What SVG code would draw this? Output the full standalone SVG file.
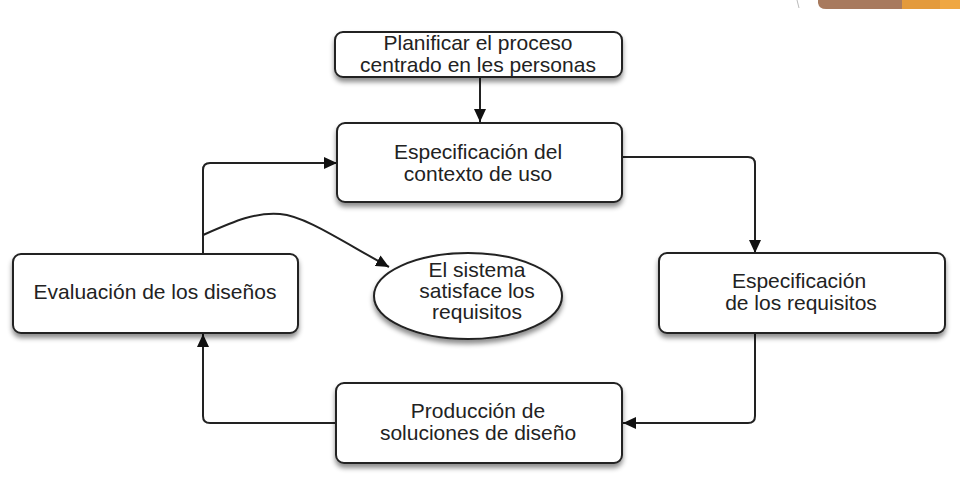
<svg xmlns="http://www.w3.org/2000/svg" width="960" height="488" viewBox="0 0 960 488">
<style>
.box{fill:#fff;stroke:#222;stroke-width:2;}
.t{font-family:"Liberation Sans",Arial,sans-serif;font-size:21px;fill:#222;text-anchor:middle;}
.c{fill:none;stroke:#222;stroke-width:2;}
</style>
<defs>
<filter id="sh" x="-10%" y="-10%" width="120%" height="140%">
<feDropShadow dx="0" dy="4" stdDeviation="2.5" flood-color="#000" flood-opacity="0.45"/>
</filter>
<marker id="ah" markerUnits="userSpaceOnUse" markerWidth="14" markerHeight="12" refX="13" refY="6" orient="auto">
<path d="M0,0 L13,6 L0,12 z" fill="#111"/>
</marker>
</defs>
<rect width="960" height="488" fill="#fff"/>
<g id="decor">
<path d="M818,0 H902 V9 H826 Q819,9 818,3 z" fill="#a87a5e"/>
<rect x="902" y="0" width="38" height="9" fill="#e39a3c"/>
<rect x="940" y="0" width="20" height="9" fill="#efa742"/>
<line x1="797" y1="0" x2="799" y2="8" stroke="#bbb" stroke-width="1"/>
</g>
<g id="connectors">
<path class="c" d="M480,77 V122" marker-end="url(#ah)"/>
<path class="c" d="M622,157 H748 Q755,157 755,164 V253" marker-end="url(#ah)"/>
<path class="c" d="M755,333 V416 Q755,423 748,423 H623" marker-end="url(#ah)"/>
<path class="c" d="M336,423 H210 Q203,423 203,416 V334" marker-end="url(#ah)"/>
<path class="c" d="M203,254 V170 Q203,163 210,163 H337" marker-end="url(#ah)"/>
<path class="c" d="M203,235 C235,221 255,212 280,214 C305,216 340,240 389,267" marker-end="url(#ah)"/>
</g>
<g id="n-planificar">
<rect class="box" x="335" y="32" width="287" height="45" rx="8" filter="url(#sh)"/>
<text class="t" x="478" y="50">Planificar el proceso</text>
<text class="t" x="478" y="72">centrado en les personas</text>
</g>
<g id="n-contexto">
<rect class="box" x="337" y="123" width="285" height="79" rx="8" filter="url(#sh)"/>
<text class="t" x="478" y="159">Especificación del</text>
<text class="t" x="478" y="181">contexto de uso</text>
</g>
<g id="n-evaluacion">
<rect class="box" x="13" y="254" width="285" height="79" rx="8" filter="url(#sh)"/>
<text class="t" x="155" y="299">Evaluación de los diseños</text>
</g>
<g id="n-satisface">
<ellipse class="box" cx="468" cy="296" rx="94" ry="43" filter="url(#sh)"/>
<text class="t" x="477" y="277">El sistema</text>
<text class="t" x="477" y="298">satisface los</text>
<text class="t" x="477" y="319">requisitos</text>
</g>
<g id="n-requisitos">
<rect class="box" x="659" y="253" width="286" height="80" rx="8" filter="url(#sh)"/>
<text class="t" x="799" y="288">Especificación</text>
<text class="t" x="801" y="310">de los requisitos</text>
</g>
<g id="n-produccion">
<rect class="box" x="336" y="383" width="286" height="80" rx="8" filter="url(#sh)"/>
<text class="t" x="478" y="418">Producción de</text>
<text class="t" x="478" y="440">soluciones de diseño</text>
</g>
</svg>
